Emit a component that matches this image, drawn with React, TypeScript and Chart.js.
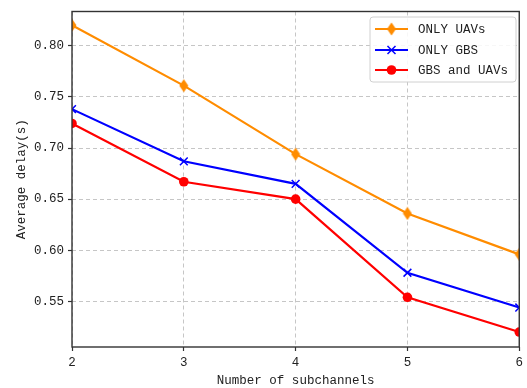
import React, { useEffect, useRef } from "react";
import { Chart, registerables } from "chart.js";
Chart.register(...registerables);

const subchannels = [2, 3, 4, 5, 6];
const onlyUAVs = [0.82, 0.761, 0.694, 0.636, 0.596];
const onlyGBS = [0.738, 0.687, 0.665, 0.578, 0.544];
const gbsAndUAVs = [0.724, 0.667, 0.65, 0.554, 0.52];
const seriesNames = ["ONLY UAVs", "ONLY GBS", "GBS and UAVs"];
const yTickValues = [0.55, 0.6, 0.65, 0.7, 0.75, 0.8];
const xTickValues = [2, 3, 4, 5, 6];

const FONT = "'Liberation Mono', 'DejaVu Sans Mono', monospace";
const TEXT = "#222";
const ORANGE = "#ff8c00";
const BLUE = "#0000ff";
const RED = "#ff0000";

function makeThinDiamond(color: string): HTMLCanvasElement {
  const c = document.createElement("canvas");
  c.width = 10;
  c.height = 14;
  const g = c.getContext("2d")!;
  g.fillStyle = color;
  g.beginPath();
  g.moveTo(5, 0.5);
  g.lineTo(9.5, 7);
  g.lineTo(5, 13.5);
  g.lineTo(0.5, 7);
  g.closePath();
  g.fill();
  return c;
}

export default function App() {
  const ref = useRef<HTMLCanvasElement | null>(null);
  useEffect(() => {
    if (!ref.current) return;
    const diamond = makeThinDiamond(ORANGE);
    const colors = [ORANGE, BLUE, RED];

    const framePlugin = {
      id: "frame",
      afterDatasetsDraw(chart: any) {
        const { ctx, chartArea: a } = chart;
        ctx.save();
        ctx.strokeStyle = "#333";
        ctx.lineWidth = 1.4;
        ctx.strokeRect(a.left, a.top, a.right - a.left, a.bottom - a.top);
        ctx.restore();
      },
    };

    const legendPlugin = {
      id: "customLegend",
      afterDraw(chart: any) {
        const ctx = chart.ctx as CanvasRenderingContext2D;
        ctx.save();
        const bx = 370, by = 17, bw = 146, bh = 65, r = 3;
        ctx.beginPath();
        ctx.moveTo(bx + r, by);
        ctx.lineTo(bx + bw - r, by);
        ctx.quadraticCurveTo(bx + bw, by, bx + bw, by + r);
        ctx.lineTo(bx + bw, by + bh - r);
        ctx.quadraticCurveTo(bx + bw, by + bh, bx + bw - r, by + bh);
        ctx.lineTo(bx + r, by + bh);
        ctx.quadraticCurveTo(bx, by + bh, bx, by + bh - r);
        ctx.lineTo(bx, by + r);
        ctx.quadraticCurveTo(bx, by, bx + r, by);
        ctx.closePath();
        ctx.fillStyle = "rgba(255,255,255,0.85)";
        ctx.fill();
        ctx.strokeStyle = "#d0d0d0";
        ctx.lineWidth = 1;
        ctx.stroke();
        const rows = [29, 50, 70];
        rows.forEach((y, i) => {
          ctx.strokeStyle = colors[i];
          ctx.lineWidth = 2.2;
          ctx.beginPath();
          ctx.moveTo(375, y);
          ctx.lineTo(408, y);
          ctx.stroke();
          const cx = 391.5;
          if (i === 0) {
            ctx.drawImage(diamond, cx - 5, y - 7);
          } else if (i === 1) {
            ctx.lineWidth = 1.5;
            ctx.beginPath();
            ctx.moveTo(cx - 4, y - 4);
            ctx.lineTo(cx + 4, y + 4);
            ctx.moveTo(cx - 4, y + 4);
            ctx.lineTo(cx + 4, y - 4);
            ctx.stroke();
          } else {
            ctx.fillStyle = RED;
            ctx.beginPath();
            ctx.arc(cx, y, 4.8, 0, Math.PI * 2);
            ctx.fill();
          }
          ctx.fillStyle = TEXT;
          ctx.font = `12.5px ${FONT}`;
          ctx.textBaseline = "middle";
          ctx.textAlign = "left";
          ctx.fillText(seriesNames[i], 418, y + 0.5);
        });
        ctx.restore();
      },
    };

    const chart = new Chart(ref.current, {
      type: "line",
      data: {
        datasets: [
          {
            label: seriesNames[0],
            data: subchannels.map((x, i) => ({ x, y: onlyUAVs[i] })),
            borderColor: ORANGE,
            backgroundColor: ORANGE,
            borderWidth: 2.2,
            pointStyle: diamond as any,
            pointRadius: 5,
          },
          {
            label: seriesNames[1],
            data: subchannels.map((x, i) => ({ x, y: onlyGBS[i] })),
            borderColor: BLUE,
            backgroundColor: BLUE,
            borderWidth: 2.2,
            pointStyle: "crossRot",
            pointRadius: 5.5,
            pointBorderWidth: 1.5,
          },
          {
            label: seriesNames[2],
            data: subchannels.map((x, i) => ({ x, y: gbsAndUAVs[i] })),
            borderColor: RED,
            backgroundColor: RED,
            borderWidth: 2.2,
            pointStyle: "circle",
            pointRadius: 4.8,
            pointBorderWidth: 0,
          },
        ],
      },
      options: {
        responsive: false,
        animation: false,
        layout: { padding: { left: 0, top: 11, right: 6, bottom: 0 } },
        plugins: { legend: { display: false }, tooltip: { enabled: false } },
        scales: {
          x: {
            type: "linear",
            min: 2,
            max: 6,
            afterBuildTicks: (s: any) => {
              s.ticks = xTickValues.map((v) => ({ value: v }));
            },
            afterFit: (s: any) => {
              s.height = 41;
            },
            ticks: {
              font: { family: FONT, size: 12.5 },
              color: TEXT,
              padding: 4,
              maxRotation: 0,
              callback: (v: any) => String(v),
            },
            grid: {
              color: "#b8b8b8",
              lineWidth: 0.8,
              tickLength: 4,
              tickColor: "#333",
              tickWidth: 1.2,
            },
            border: { display: false, dash: [4, 3] },
            title: {
              display: true,
              text: "Number of subchannels",
              font: { family: FONT, size: 12.5 },
              color: TEXT,
              padding: { top: 0, bottom: 0 },
            },
          },
          y: {
            type: "linear",
            min: 0.5054,
            max: 0.8335,
            afterBuildTicks: (s: any) => {
              s.ticks = yTickValues.map((v) => ({ value: v }));
            },
            afterFit: (s: any) => {
              s.width = 72;
            },
            ticks: {
              font: { family: FONT, size: 12.5 },
              color: TEXT,
              padding: 4,
              callback: (v: any) => Number(v).toFixed(2),
            },
            grid: {
              color: "#b8b8b8",
              lineWidth: 0.8,
              tickLength: 4,
              tickColor: "#333",
              tickWidth: 1.2,
            },
            border: { display: false, dash: [4, 3] },
            title: {
              display: true,
              text: "Average delay(s)",
              font: { family: FONT, size: 12.5 },
              color: TEXT,
              padding: { top: 14, bottom: 0 },
            },
          },
        },
      },
      plugins: [framePlugin, legendPlugin],
    } as any);
    return () => chart.destroy();
  }, []);

  return (
    <div style={{ position: "absolute", left: 0, top: 0, width: 527, height: 388, background: "#fff" }}>
      <canvas ref={ref} width={527} height={388} style={{ width: 527, height: 388, display: "block" }} />
    </div>
  );
}
